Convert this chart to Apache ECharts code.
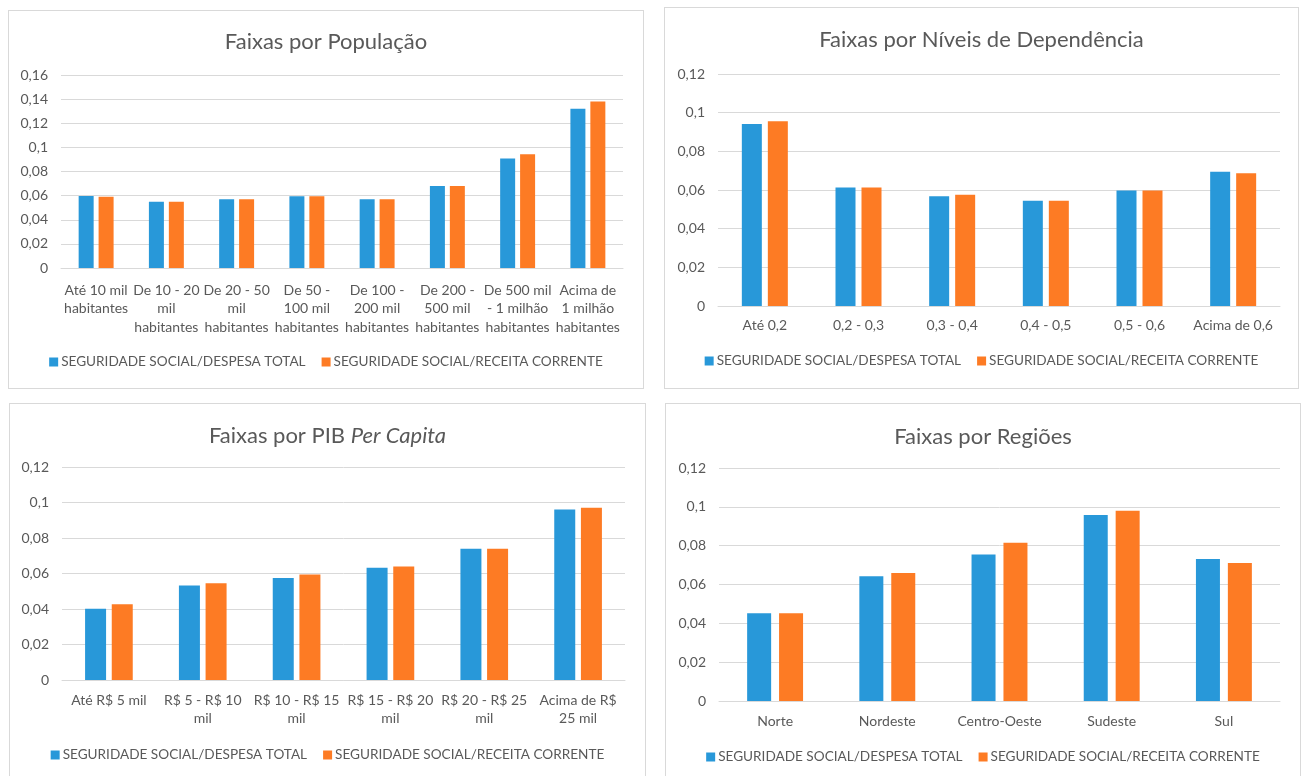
<!DOCTYPE html>
<html>
<head>
<meta charset="utf-8">
<script src="https://cdn.jsdelivr.net/npm/echarts@6/dist/echarts.min.js"></script>
<style>
  html, body { margin: 0; padding: 0; background: #ffffff; overflow: hidden; width: 1306px; height: 776px; }
  .panel { position: absolute; border: 1px solid #d9d9d9; box-sizing: border-box; background: #fff; }
</style>
</head>
<body>
<div id="p1" class="panel" style="left:8px;top:10px;width:636px;height:379px;"></div>
<div id="p2" class="panel" style="left:664px;top:7px;width:635px;height:382px;"></div>
<div id="p3" class="panel" style="left:9px;top:403px;width:637px;height:390px;"></div>
<div id="p4" class="panel" style="left:665px;top:403px;width:636px;height:390px;"></div>
<script>
// ---- Data ----
const seriesNames = ['SEGURIDADE SOCIAL/DESPESA TOTAL', 'SEGURIDADE SOCIAL/RECEITA CORRENTE'];

const popCategories = ['Até 10 mil\nhabitantes', 'De 10 - 20\nmil\nhabitantes', 'De 20 - 50\nmil\nhabitantes',
  'De 50 -\n100 mil\nhabitantes', 'De 100 -\n200 mil\nhabitantes', 'De 200 -\n500 mil\nhabitantes',
  'De 500 mil\n- 1 milhão\nhabitantes', 'Acima de\n1 milhão\nhabitantes'];
const popDespesa = [0.0597, 0.0550, 0.0570, 0.0595, 0.0570, 0.0680, 0.0908, 0.1320];
const popReceita = [0.0590, 0.0550, 0.0570, 0.0595, 0.0570, 0.0680, 0.0944, 0.1380];

const depCategories = ['Até 0,2', '0,2 - 0,3', '0,3 - 0,4', '0,4 - 0,5', '0,5 - 0,6', 'Acima de 0,6'];
const depDespesa = [0.0942, 0.0613, 0.0568, 0.0545, 0.0597, 0.0694];
const depReceita = [0.0955, 0.0613, 0.0576, 0.0545, 0.0597, 0.0686];

const pibCategories = ['Até R$ 5 mil', 'R$ 5 - R$ 10\nmil', 'R$ 10 - R$ 15\nmil', 'R$ 15 - R$ 20\nmil', 'R$ 20 - R$ 25\nmil', 'Acima de R$\n25 mil'];
const pibDespesa = [0.0402, 0.0533, 0.0575, 0.0633, 0.0740, 0.0961];
const pibReceita = [0.0427, 0.0545, 0.0594, 0.0640, 0.0740, 0.0970];

const regCategories = ['Norte', 'Nordeste', 'Centro-Oeste', 'Sudeste', 'Sul'];
const regDespesa = [0.0452, 0.0642, 0.0755, 0.0958, 0.0731];
const regReceita = [0.0452, 0.0659, 0.0815, 0.0980, 0.0711];

const popYTicks = { min: 0, max: 0.16, interval: 0.02 };
const otherYTicks = { min: 0, max: 0.12, interval: 0.02 };

// ---- Styles ----
const FONT = 'Lato';
const TEXT = '#595959';
const GRID = '#d9d9d9';
const BLUE = '#2898d9';
const ORANGE = '#fd7b24';

function fmt(v) { return String(+v.toFixed(2)).replace('.', ','); }

function build(el, cfg) {
  const chart = echarts.init(document.getElementById(el), null, { renderer: 'canvas' });
  chart.setOption({
    animation: false,
    textStyle: { fontFamily: FONT, color: TEXT },
    title: {
      text: cfg.title,
      left: 'center',
      top: cfg.titleTop,
      textStyle: { fontFamily: FONT, fontSize: 22, fontWeight: 'normal', color: TEXT,
        rich: {
          n: { fontFamily: FONT, fontSize: 22, color: TEXT },
          i: { fontFamily: FONT, fontSize: 22, fontStyle: 'italic', color: TEXT }
        } }
    },
    legend: {
      data: seriesNames,
      left: 'center',
      top: cfg.legendTop,
      itemWidth: 9, itemHeight: 9, itemGap: 16,
      icon: 'rect',
      textStyle: { fontFamily: FONT, fontSize: 13.6, color: TEXT, padding: [0, 0, 0, -2] }
    },
    grid: { left: cfg.grid[0], top: cfg.grid[1], width: cfg.grid[2], height: cfg.grid[3], containLabel: false },
    xAxis: {
      type: 'category',
      data: cfg.categories,
      axisLine: { lineStyle: { color: GRID, width: 1 } },
      axisTick: { show: false },
      axisLabel: { interval: 0, fontFamily: FONT, fontSize: 14, color: TEXT, lineHeight: 18.5, margin: cfg.xMargin }
    },
    yAxis: {
      type: 'value',
      min: cfg.y.min, max: cfg.y.max, interval: cfg.y.interval,
      axisLine: { show: false },
      axisTick: { show: false },
      splitLine: { lineStyle: { color: GRID, width: 1 } },
      axisLabel: { formatter: fmt, fontFamily: FONT, fontSize: 14, color: TEXT, margin: 13 }
    },
    series: [
      { name: seriesNames[0], type: 'bar', data: cfg.a, barWidth: cfg.barWidth, barGap: cfg.barGap, itemStyle: { color: BLUE } },
      { name: seriesNames[1], type: 'bar', data: cfg.b, barWidth: cfg.barWidth, barGap: cfg.barGap, itemStyle: { color: ORANGE } }
    ]
  });
}

build('p1', { title: 'Faixas por População', titleTop: 15, legendTop: 339,
  grid: [52, 64, 562, 193], categories: popCategories, a: popDespesa, b: popReceita,
  y: popYTicks, barWidth: 15, barGap: '33%', xMargin: 13 });

build('p2', { title: 'Faixas por Níveis de Dependência', titleTop: 16, legendTop: 341,
  grid: [53, 66, 562, 232], categories: depCategories, a: depDespesa, b: depReceita,
  y: otherYTicks, barWidth: 20, barGap: '30%', xMargin: 10 });

build('p3', { title: '{n|Faixas por PIB }{i|Per Capita}', titleTop: 16, legendTop: 339,
  grid: [52, 63, 563, 213], categories: pibCategories, a: pibDespesa, b: pibReceita,
  y: otherYTicks, barWidth: 21, barGap: '27%', xMargin: 11 });

build('p4', { title: 'Faixas por Regiões', titleTop: 17, legendTop: 341,
  grid: [53, 64, 561, 233], categories: regCategories, a: regDespesa, b: regReceita,
  y: otherYTicks, barWidth: 24, barGap: '33%', xMargin: 11 });
</script>
</body>
</html>
